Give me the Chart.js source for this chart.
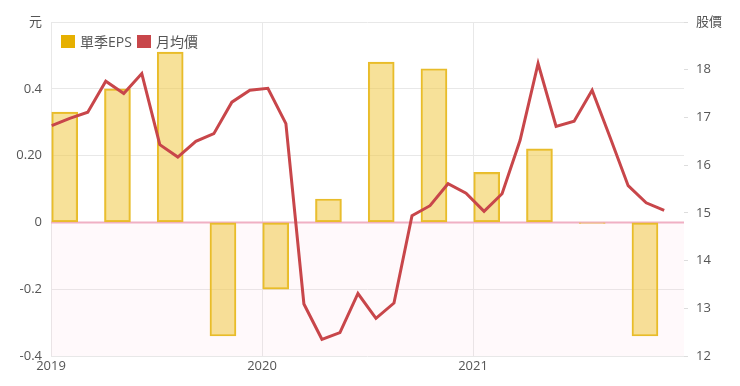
<!DOCTYPE html>
<html>
<head>
<meta charset="utf-8">
<script src="https://cdn.jsdelivr.net/npm/chart.js@4/dist/chart.umd.min.js"></script>
<style>
  html, body { margin: 0; padding: 0; background: #fff; }
  #wrap { position: relative; width: 740px; height: 386px; }
  #legend { position: absolute; left: 61px; top: 31px; font: 14px "Open Sans", "Noto Sans CJK TC", sans-serif; color: #555; display: flex; align-items: center; }
  #legend span.box { display: inline-block; width: 14px; height: 13px; margin-right: 5px; }
  #legend span.item { display: inline-flex; align-items: center; margin-right: 5px; }
</style>
</head>
<body>
<div id="wrap">
  <canvas id="epsChart" width="740" height="386"></canvas>
  <div id="legend">
    <span class="item"><span class="box" style="background:#e6b000"></span>單季EPS</span>
    <span class="item"><span class="box" style="background:#c8464a"></span>月均價</span>
  </div>
</div>
<script>
// Données
const quarters = ['2019Q1', '2019Q2', '2019Q3', '2019Q4', '2020Q1', '2020Q2', '2020Q3', '2020Q4', '2021Q1', '2021Q2', '2021Q3', '2021Q4'];
const epsValues = [0.33, 0.40, 0.51, -0.34, -0.20, 0.07, 0.48, 0.46, 0.15, 0.22, -0.003, -0.34];

const months = ['2019-01', '2019-02', '2019-03', '2019-04', '2019-05', '2019-06', '2019-07', '2019-08', '2019-09', '2019-10', '2019-11', '2019-12',
                '2020-01', '2020-02', '2020-03', '2020-04', '2020-05', '2020-06', '2020-07', '2020-08', '2020-09', '2020-10', '2020-11', '2020-12',
                '2021-01', '2021-02', '2021-03', '2021-04', '2021-05', '2021-06', '2021-07', '2021-08', '2021-09', '2021-10', '2021-11'];
const priceValues = [16.83, 16.98, 17.11, 17.76, 17.50, 17.92, 16.43, 16.17, 16.50, 16.66, 17.32, 17.57,
                     17.61, 16.87, 13.09, 12.35, 12.49, 13.31, 12.79, 13.11, 14.94, 15.15, 15.61, 15.41,
                     15.03, 15.40, 16.52, 18.13, 16.81, 16.92, 17.57, 16.58, 15.57, 15.21, 15.05];

const years = ['2019', '2020', '2021'];
const leftTicks = [-0.4, -0.2, 0, 0.2, 0.4, 0.6];
const leftTickLabels = ['-0.4', '-0.2', '0', '0.20', '0.4', '元'];
const rightMin = 12, rightMax = 19;

const FONT = { family: '"Open Sans", "Noto Sans CJK TC", sans-serif', size: 13 };

// fond rose sous le zéro + ligne du zéro
const negativeZone = {
    id: 'negativeZone',
    beforeDatasetsDraw(chart) {
        const { ctx, chartArea, scales } = chart;
        const y0 = scales.y.getPixelForValue(0);
        const yMin = scales.y.getPixelForValue(scales.y.min);
        ctx.save();
        ctx.fillStyle = 'rgba(255, 205, 222, 0.12)';
        ctx.fillRect(chartArea.left, y0, chartArea.right - chartArea.left, yMin - y0);
        const yz = Math.round(y0) + 0.5;
        ctx.strokeStyle = '#f0b0c4';
        ctx.lineWidth = 2;
        ctx.beginPath();
        ctx.moveTo(chartArea.left, yz);
        ctx.lineTo(chartArea.right, yz);
        ctx.stroke();
        ctx.restore();
    }
};

const ctx = document.getElementById('epsChart').getContext('2d');
const chart = new Chart(ctx, {
    data: {
        datasets: [{
            type: 'line',
            label: '月均價',
            data: priceValues.map((v, i) => ({ x: i, y: v })),
            xAxisID: 'xLine',
            yAxisID: 'y1',
            borderColor: '#c8464a',
            borderWidth: 3,
            pointRadius: 0,
            tension: 0,
            order: 1
        }, {
            type: 'bar',
            label: '單季EPS',
            data: epsValues.map((v, i) => ({ x: i * 3 + 0.78, y: v })),
            xAxisID: 'x',
            yAxisID: 'y',
            grouped: false,
            backgroundColor: 'rgba(240, 200, 70, 0.55)',
            borderColor: '#e8bc2a',
            borderWidth: 1.5,
            borderSkipped: false,
            barThickness: 26,
            order: 2
        }]
    },
    options: {
        responsive: false,
        animation: false,
        layout: { padding: { top: 22, right: 0, left: 0, bottom: 0 } },
        plugins: {
            legend: { display: false },
            tooltip: { enabled: false }
        },
        scales: {
            x: {
                type: 'linear',
                min: 0,
                max: 36,
                offset: false,
                afterBuildTicks: s => { s.ticks = [0, 12, 24].map(v => ({ value: v })); },
                ticks: {
                    callback: (v) => years[Math.round(v / 12)],
                    color: '#555',
                    font: FONT,
                    maxRotation: 0,
                    padding: 2
                },
                grid: { color: '#e8e8e8', drawTicks: false, offset: false },
                border: { display: false },
                afterFit: s => { s.height = 30; }
            },
            xLine: {
                type: 'linear',
                min: -0.04,
                max: 35.1,
                display: false
            },
            y: {
                position: 'left',
                min: -0.4,
                max: 0.6,
                afterBuildTicks: s => { s.ticks = leftTicks.map(v => ({ value: v })); },
                ticks: {
                    callback: (v) => leftTickLabels[leftTicks.findIndex(t => Math.abs(t - v) < 1e-6)],
                    color: '#555',
                    font: FONT,
                    padding: 9
                },
                grid: { color: '#e8e8e8', drawTicks: false },
                border: { display: false },
                afterFit: s => { s.width = 51; }
            },
            y1: {
                position: 'right',
                min: rightMin,
                max: rightMax,
                ticks: {
                    stepSize: 1,
                    callback: (v) => v === rightMax ? '股價' : v,
                    color: '#555',
                    font: FONT,
                    padding: 8
                },
                grid: { drawOnChartArea: false, color: '#dddddd', tickLength: 4 },
                border: { display: false },
                afterFit: s => { s.width = 56; }
            }
        }
    },
    plugins: [negativeZone]
});
</script>
</body>
</html>
